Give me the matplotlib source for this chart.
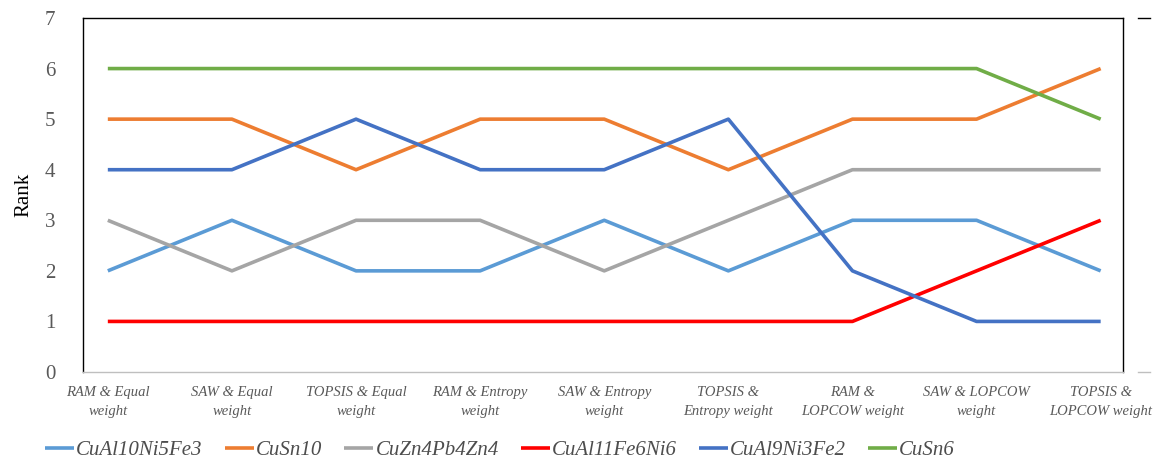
import matplotlib
matplotlib.use("Agg")
import matplotlib.pyplot as plt
from matplotlib.lines import Line2D

categories = ["RAM & Equal\nweight", "SAW & Equal\nweight", "TOPSIS & Equal\nweight",
              "RAM & Entropy\nweight", "SAW & Entropy\nweight", "TOPSIS &\nEntropy weight",
              "RAM &\nLOPCOW weight", "SAW & LOPCOW\nweight", "TOPSIS &\nLOPCOW weight"]

series_names = ["CuAl10Ni5Fe3", "CuSn10", "CuZn4Pb4Zn4", "CuAl11Fe6Ni6", "CuAl9Ni3Fe2", "CuSn6"]
cual10ni5fe3 = [2, 3, 2, 2, 3, 2, 3, 3, 2]
cusn10 = [5, 5, 4, 5, 5, 4, 5, 5, 6]
cuzn4pb4zn4 = [3, 2, 3, 3, 2, 3, 4, 4, 4]
cual11fe6ni6 = [1, 1, 1, 1, 1, 1, 1, 2, 3]
cual9ni3fe2 = [4, 4, 5, 4, 4, 5, 2, 1, 1]
cusn6 = [6, 6, 6, 6, 6, 6, 6, 6, 5]
series_values = [cual10ni5fe3, cusn10, cuzn4pb4zn4, cual11fe6ni6, cual9ni3fe2, cusn6]
colors = ["#5B9BD5", "#ED7D31", "#A5A5A5", "#FF0000", "#4472C4", "#70AD47"]
y_ticks = [0, 1, 2, 3, 4, 5, 6, 7]

serif = ["Liberation Serif", "DejaVu Serif"]

fig = plt.figure(figsize=(11.65, 4.62), dpi=100)
ax = fig.add_axes([83 / 1165, 1 - 372 / 462, (1123 - 83) / 1165, (372 - 18) / 462])

x = list(range(len(categories)))
for name, vals, c in zip(series_names, series_values, colors):
    ax.plot(x, vals, color=c, lw=2.6, label=name, solid_capstyle="butt")

ax.set_xlim(-0.2, 8.18)
ax.set_ylim(0, 7)
ax.set_yticks(y_ticks)
ax.set_yticklabels([str(v) for v in y_ticks], fontfamily=serif, fontsize=15, color="#595959")
ax.set_xticks(x)
ax.set_xticklabels(categories, fontfamily=serif, fontsize=10.5, style="italic", color="#595959",
                   linespacing=1.6)
ax.tick_params(axis="both", length=0)
ax.tick_params(axis="x", pad=10)
ax.tick_params(axis="y", pad=20)
ax.set_ylabel("Rank", fontfamily=serif, fontsize=15, labelpad=8)

for side in ["left", "top", "right"]:
    ax.spines[side].set_color("#000000")
    ax.spines[side].set_linewidth(1.0)
ax.spines["bottom"].set_color("#BFBFBF")
ax.spines["bottom"].set_linewidth(1.0)

# small dashes on the right (secondary axis marks)
for yy in [1 - 18 / 462, 1 - 372 / 462]:
    fig.add_artist(Line2D([1138 / 1165, 1150 / 1165], [yy, yy], transform=fig.transFigure,
                          color="#000000" if yy > 0.5 else "#BFBFBF", lw=1.0))

leg = fig.legend(loc="center", bbox_to_anchor=(500 / 1165, 1 - 450 / 462), ncol=6,
                 frameon=False, prop={"family": serif, "size": 15, "style": "italic"},
                 handlelength=1.4, handletextpad=0.1, columnspacing=1.05)
for t in leg.get_texts():
    t.set_color("#4D4D4D")

fig.savefig("out.png", dpi=100)
